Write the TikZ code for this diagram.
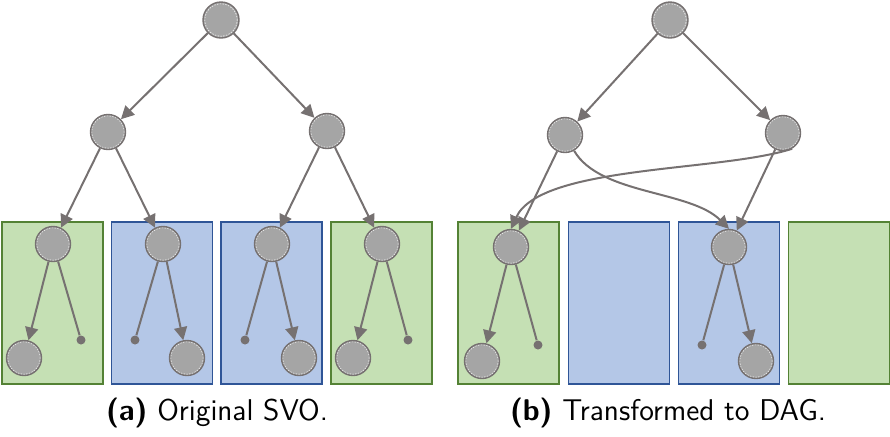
\documentclass[tikz,border=0pt]{standalone}
\usepackage{tikz}
\usetikzlibrary{arrows.meta, positioning}
\definecolor{boxGreen}{HTML}{C5E0B4}
\definecolor{lineGreen}{HTML}{548235}
\definecolor{boxBlue}{HTML}{B4C7E7}
\definecolor{lineBlue}{HTML}{2F5597}
\definecolor{nodeGray}{HTML}{A5A5A5}
\definecolor{edgeGray}{HTML}{767171}
\tikzset{
    treeNode/.style={circle, draw=edgeGray, fill=nodeGray, line width=0.7pt, inner sep=0pt, minimum size=17.5pt,
        path picture={\draw[white, line width=0.3pt, dash pattern=on 0.7pt off 0.7pt] (path picture bounding box.center) circle (8.1pt);}},
    rootNode/.style={treeNode, minimum size=18pt},
    dotNode/.style={circle, fill=edgeGray, inner sep=0pt, minimum size=4.5pt},
    greenBox/.style={rectangle, draw=lineGreen, fill=boxGreen, line width=0.8pt, minimum width=50.5pt, minimum height=81pt},
    blueBox/.style={rectangle, draw=lineBlue, fill=boxBlue, line width=0.8pt, minimum width=50.5pt, minimum height=81pt},
    arrowEdge/.style={draw=edgeGray, line width=1pt, -{Triangle[length=6.5pt, width=6.5pt]}},
    stubEdge/.style={draw=edgeGray, line width=1pt},
    caption/.style={font=\fontsize{15}{18}\selectfont\sffamily},
}
\newcommand{\linkArrow}[2]{
    \draw[arrowEdge] (#1) -- (#2);
}
\newcommand{\linkStub}[2]{
    \draw[stubEdge] (#1) -- (#2);
}

\begin{document}
\begin{tikzpicture}[x=0.5pt, y=-0.5pt]
    \useasboundingbox (0,0) rectangle (890,436);

    % (a) original SVO
    \node[greenBox] (a1) at (52.5,303) {};
    \node[blueBox] (a2) at (162,303) {};
    \node[blueBox] (a3) at (271.5,303) {};
    \node[greenBox] (a4) at (381.5,303) {};

    \node[rootNode] (aR) at (221,20) {};
    \node[treeNode] (aL) at (108,132) {};
    \node[treeNode] (aM) at (327,131) {};

    \node[treeNode] (a1n) at (53,244) {};
    \node[treeNode] (a2n) at (163,244) {};
    \node[treeNode] (a3n) at (272,244) {};
    \node[treeNode] (a4n) at (382,244) {};

    \node[treeNode] (a1c) at (24,358) {};
    \node[dotNode] (a1d) at (81,340) {};
    \node[dotNode] (a2d) at (135,340) {};
    \node[treeNode] (a2c) at (187,358) {};
    \node[dotNode] (a3d) at (245,340) {};
    \node[treeNode] (a3c) at (299,358) {};
    \node[treeNode] (a4c) at (353,358) {};
    \node[dotNode] (a4d) at (408,340) {};

    \linkArrow{aR}{aL}
    \linkArrow{aR}{aM}
    \linkArrow{aL}{a1n}
    \linkArrow{aL}{a2n}
    \linkArrow{aM}{a3n}
    \linkArrow{aM}{a4n}
    \linkArrow{a1n}{a1c}
    \linkStub{a1n}{a1d}
    \linkStub{a2n}{a2d}
    \linkArrow{a2n}{a2c}
    \linkStub{a3n}{a3d}
    \linkArrow{a3n}{a3c}
    \linkArrow{a4n}{a4c}
    \linkStub{a4n}{a4d}

    % (b) transformed to DAG
    \node[greenBox] (b1) at (508.5,303) {};
    \node[blueBox] (b2) at (619,303) {};
    \node[blueBox] (b3) at (729,303) {};
    \node[greenBox] (b4) at (839,303) {};

    \node[rootNode] (bR) at (670,20) {};
    \node[treeNode] (bL) at (565,135) {};
    \node[treeNode] (bM) at (783,133) {};

    \node[treeNode] (b1n) at (511,247) {};
    \node[treeNode] (b3n) at (729,247) {};

    \node[treeNode] (b1c) at (482,361) {};
    \node[dotNode] (b1d) at (538,345) {};
    \node[dotNode] (b3d) at (702,345) {};
    \node[treeNode] (b3c) at (756,361) {};

    \linkArrow{bR}{bL}
    \linkArrow{bR}{bM}
    \linkArrow{bL}{b1n}
    \linkArrow{bM}{b3n}
    \draw[arrowEdge] (bL.-60) .. controls (600,195) and (690,190) .. (b3n.north);
    \draw[arrowEdge] (bM.-60) .. controls (720,172) and (540,165) .. (b1n.north);
    \linkArrow{b1n}{b1c}
    \linkStub{b1n}{b1d}
    \linkStub{b3n}{b3d}
    \linkArrow{b3n}{b3c}

    % captions
    \node[caption] (capA) at (217,413) {\textbf{(a)} Original SVO.};
    \node[caption] (capB) at (668,413) {\textbf{(b)} Transformed to DAG.};

\end{tikzpicture}
\end{document}
